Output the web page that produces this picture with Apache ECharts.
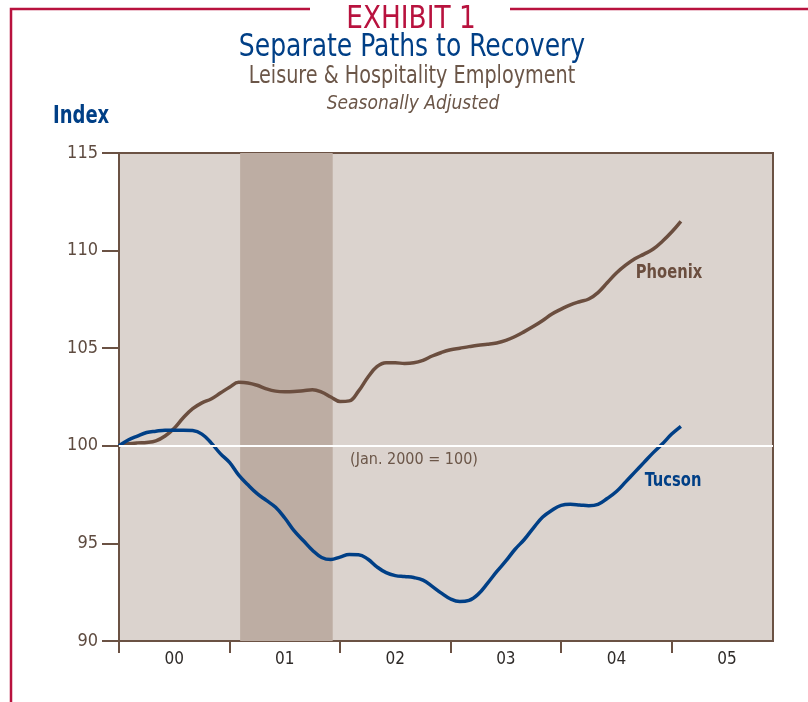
<!DOCTYPE html>
<html>
<head>
<meta charset="utf-8">
<script src="https://cdn.jsdelivr.net/npm/echarts@6/dist/echarts.min.js"></script>
<style>
html,body{margin:0;padding:0;background:#fff;}
#chart{width:808px;height:702px;}
</style>
</head>
<body>
<div id="chart"></div>
<script>
// Month index: 0 = Jan 2000
var months = [];
for (var i = 0; i <= 61; i++) months.push(i);

var phoenix = [100.0,100.1,100.15,100.17,100.25,100.5,100.9,101.45,101.9,102.2,102.4,102.7,
  103.0,103.25,103.22,103.1,102.92,102.8,102.77,102.78,102.82,102.87,102.75,102.5,
  102.27,102.3,102.8,103.5,104.05,104.25,104.25,104.22,104.25,104.38,104.6,104.78,
  104.92,105.0,105.08,105.15,105.2,105.27,105.4,105.6,105.85,106.12,106.42,106.75,
  107.0,107.22,107.38,107.52,107.85,108.35,108.85,109.25,109.58,109.82,110.08,110.48,
  110.95,111.5];

var tucson = [100.0,100.3,100.5,100.68,100.75,100.8,100.8,100.8,100.78,100.6,100.15,99.6,
  99.15,98.5,98.0,97.55,97.2,96.85,96.3,95.65,95.15,94.65,94.28,94.17,
  94.3,94.43,94.42,94.2,93.8,93.5,93.35,93.3,93.25,93.12,92.8,92.45,
  92.15,92.02,92.08,92.4,92.95,93.55,94.1,94.7,95.2,95.8,96.35,96.7,
  96.95,97.0,96.97,96.93,97.0,97.3,97.66,98.15,98.65,99.15,99.65,100.1,
  100.6,101.0];

var yearLabels = ['00','01','02','03','04','05'];
var yearTicks = [0,12,24,36,48,60];
var yearMids = [6,18,30,42,54,66];
var recession = [13.15, 23.2];
var baseValue = 100;

var FONT = "'Liberation Sans Narrow','DejaVu Sans Condensed','Liberation Sans',sans-serif";
var BROWN = '#6b5244';
var BLUE = '#003f86';
var RED = '#b8123e';

function zip(xs, ys){ return xs.map(function(x,i){ return [x, ys[i]]; }); }

var chart = echarts.init(document.getElementById('chart'));
chart.setOption({
  animation: false,
  backgroundColor: '#ffffff',
  grid: {left:119, top:153, width:654, height:488, show:true,
         backgroundColor:'#dbd3ce', borderColor:BROWN, borderWidth:2},
  xAxis: {
    type:'value', min:0, max:71,
    axisLine:{show:true, lineStyle:{color:BROWN, width:2}},
    axisTick:{show:true, length:12, customValues:yearTicks, lineStyle:{color:BROWN, width:2}},
    axisLabel:{show:true, customValues:yearMids, margin:10, fontFamily:FONT, fontSize:17, color:'#2e2a28',
      formatter:function(v){ return yearLabels[Math.round((v-6)/12)]; }},
    splitLine:{show:false}
  },
  yAxis: {
    type:'value', min:90, max:115, interval:5,
    axisLine:{show:true, lineStyle:{color:BROWN, width:2}},
    axisTick:{show:true, length:17, lineStyle:{color:BROWN, width:2}},
    axisLabel:{margin:21, fontFamily:FONT, fontSize:18, color:'#5e4b40'},
    splitLine:{show:false}
  },
  series: [
    {type:'line', data:[], z:1, silent:true,
     markArea:{silent:true, itemStyle:{color:'#bdada3'}, data:[[{xAxis:recession[0]},{xAxis:recession[1]}]]}},
    {type:'line', data:[], z:2, silent:true,
     markLine:{silent:true, symbol:['none','none'], label:{show:false},
       lineStyle:{color:'#ffffff', width:2, type:'solid'}, data:[{yAxis:baseValue}]}},
    {name:'Phoenix', type:'line', z:3, data:zip(months, phoenix), smooth:0.4, showSymbol:false,
     lineStyle:{color:'#6b4e3f', width:3.5}},
    {name:'Tucson', type:'line', z:4, data:zip(months, tucson), smooth:0.4, showSymbol:false,
     lineStyle:{color:BLUE, width:3.5}}
  ],
  graphic: [
    {type:'polyline', shape:{points:[[310,9],[11,9],[11,702]]}, style:{stroke:RED, lineWidth:2.5, fill:null}},
    {type:'line', shape:{x1:510,y1:9,x2:808,y2:9}, style:{stroke:RED, lineWidth:2.5}},
    {type:'text', x:411, y:20, scaleX:0.915, style:{text:'EXHIBIT 1', font:'32px '+FONT, fill:RED, textAlign:'center', textVerticalAlign:'middle'}},
    {type:'text', x:412, y:48, scaleX:0.87, style:{text:'Separate Paths to Recovery', font:'32px '+FONT, fill:BLUE, textAlign:'center', textVerticalAlign:'middle'}},
    {type:'text', x:412, y:77, scaleX:0.89, style:{text:'Leisure & Hospitality Employment', font:'24px '+FONT, fill:'#6b5648', textAlign:'center', textVerticalAlign:'middle'}},
    {type:'text', x:413, y:104, style:{text:'Seasonally Adjusted', font:'italic 19px '+FONT, fill:'#6b5648', textAlign:'center', textVerticalAlign:'middle'}},
    {type:'text', x:53, y:116, scaleX:0.8, style:{text:'Index', font:'bold 25px '+FONT, fill:BLUE, textAlign:'left', textVerticalAlign:'middle'}},
    {type:'text', x:669, y:273, scaleX:0.86, style:{text:'Phoenix', font:'bold 19px '+FONT, fill:'#6b4e3f', textAlign:'center', textVerticalAlign:'middle'}},
    {type:'text', x:673, y:481, scaleX:0.86, style:{text:'Tucson', font:'bold 19px '+FONT, fill:BLUE, textAlign:'center', textVerticalAlign:'middle'}},
    {type:'text', x:414, y:460, style:{text:'(Jan. 2000 = 100)', font:'16px '+FONT, fill:'#6b5648', textAlign:'center', textVerticalAlign:'middle'}}
  ]
});
</script>
</body>
</html>
